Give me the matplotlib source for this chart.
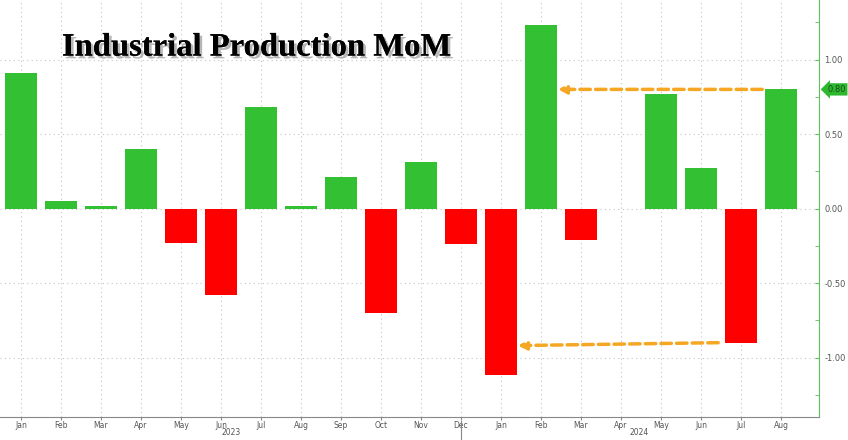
import matplotlib
matplotlib.use("Agg")
import matplotlib.pyplot as plt
import matplotlib.patheffects as pe
from matplotlib.ticker import MultipleLocator

# ─── Data ─────────────────────────────────────────────────────────────────────
MONTHS = ["Jan", "Feb", "Mar", "Apr", "May", "Jun", "Jul", "Aug", "Sep", "Oct",
          "Nov", "Dec", "Jan", "Feb", "Mar", "Apr", "May", "Jun", "Jul", "Aug"]
VALUES = [0.91, 0.05, 0.015, 0.40, -0.23, -0.58, 0.68, 0.02, 0.21, -0.70,
          0.31, -0.24, -1.12, 1.23, -0.21, -0.005, 0.77, 0.27, -0.90, 0.80]
YEARS = ["2023", "2024"]
YEAR_POS = [5.25, 15.45]
LAST_VALUE = 0.80

GREEN = "#33c033"
RED = "#ff0000"
ORANGE = "#f5a623"
AXIS_GREEN = "#5cc05c"

fig = plt.figure(figsize=(8.48, 4.4), dpi=100)
ax = fig.add_axes([0.0, 0.052, 819 / 848, 0.948])

x = list(range(len(VALUES)))
colors = [GREEN if v >= 0 else RED for v in VALUES]
ax.bar(x, VALUES, width=0.78, color=colors, zorder=3)

ax.set_xlim(-0.525, 19.95)
ax.set_ylim(-1.40, 1.40)

# grid
ax.set_xticks(x)
ax.set_xticklabels(MONTHS, fontsize=5.5, color="#555555")
ax.grid(True, axis="x", color="#c4c4c4", linestyle=(0, (1, 3)), linewidth=0.8, zorder=0)
ax.yaxis.set_major_locator(MultipleLocator(0.5))
ax.yaxis.set_minor_locator(MultipleLocator(0.25))
ax.grid(True, axis="y", which="major", color="#c4c4c4", linestyle=(0, (1, 3)),
        linewidth=0.8, zorder=0)

# axes styling
for side in ["left", "top"]:
    ax.spines[side].set_visible(False)
ax.spines["bottom"].set_color("#888888")
ax.spines["right"].set_color(AXIS_GREEN)
ax.yaxis.tick_right()
ax.tick_params(axis="y", which="both", colors=AXIS_GREEN, labelcolor="#555555",
               labelsize=6, direction="in", length=3, pad=4)
ax.tick_params(axis="x", length=2, color="#888888", pad=1)
ax.yaxis.set_major_formatter(plt.FuncFormatter(lambda v, p: f"{v:.2f}"))

# year labels
for yr, pos in zip(YEARS, YEAR_POS):
    ax.text(pos, -0.038, yr, transform=ax.get_xaxis_transform(), ha="center",
            va="center", fontsize=5.5, color="#555555")
ax.plot([11, 11], [-0.01, -0.06], transform=ax.get_xaxis_transform(),
        color="#888888", linewidth=0.8, clip_on=False)

# last value tag
ax.annotate(f"{LAST_VALUE:.2f}", xy=(1.0, LAST_VALUE), xycoords=("axes fraction", "data"),
            xytext=(6, 0), textcoords="offset points", ha="left", va="center",
            fontsize=6, color="#1a4d1a",
            bbox=dict(boxstyle="larrow,pad=0.2", fc="#2eb82e", ec="none"))

# arrows
ax.annotate("", xy=(13.35, 0.80), xytext=(18.6, 0.80),
            arrowprops=dict(arrowstyle="-|>", color=ORANGE, lw=2.5,
                            linestyle=(0, (3, 1.5)), mutation_scale=12), zorder=4)
ax.annotate("", xy=(12.35, -0.92), xytext=(17.5, -0.90),
            arrowprops=dict(arrowstyle="-|>", color=ORANGE, lw=2.5,
                            linestyle=(0, (3, 1.5)), mutation_scale=12), zorder=4)

# title
fig.text(0.073, 0.893, "Industrial Production MoM", fontsize=23.5, fontweight="bold",
         family="Liberation Serif", color="black", va="center", ha="left",
         path_effects=[pe.withSimplePatchShadow(offset=(2, -2), shadow_rgbFace="#888888",
                                                alpha=0.6), pe.Normal()])

fig.savefig("out.png", dpi=100)
